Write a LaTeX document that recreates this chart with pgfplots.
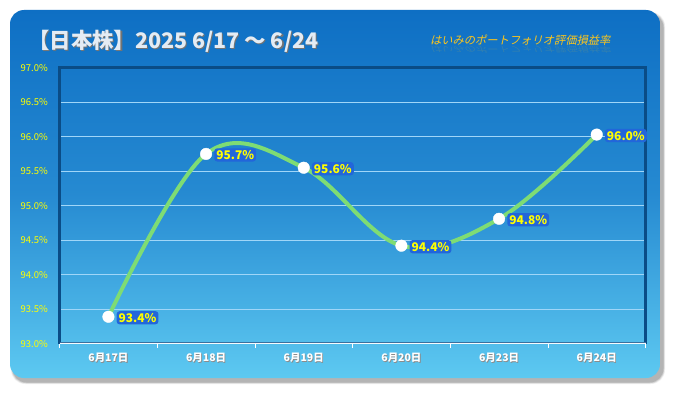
\documentclass[border=0pt]{standalone}
\usepackage{pgfplots}
\pgfplotsset{compat=1.18}
\usepackage{fontspec}
\setmainfont{Noto Sans CJK JP}
\newfontfamily\subfont[FakeSlant=0.22]{Noto Sans CJK JP}
\definecolor{bgtop}{HTML}{0E6FC4}
\definecolor{bgbot}{HTML}{5DC9F1}
\definecolor{framec}{HTML}{0A4C86}
\definecolor{gridc}{HTML}{A0D6F8}
\definecolor{linec}{HTML}{7EDC74}
\definecolor{lblbg}{HTML}{2266DA}
\definecolor{ylw}{HTML}{FFFF00}
\definecolor{titlec}{HTML}{E4ECF4}
\definecolor{subc}{HTML}{FFC61A}
\newcommand\sh[1]{\makebox[0pt][l]{\kern0.8pt\raisebox{-0.8pt}{\textcolor{black!45}{#1}}}#1}
\begin{document}
\begin{tikzpicture}[x=1bp,y=1bp]
\fill[white] (0,0) rectangle (675,393);
% shadow
\foreach \d/\o in {4/0.05,3/0.07,2/0.09,1/0.11}{
  \fill[black,opacity=\o,rounded corners=14bp] (10+3-\d*0.5,15-4-\d*0.5) rectangle (660+3+\d*0.5,383-4+\d*0.5);
}
\shade[rounded corners=14bp, top color=bgtop, bottom color=bgbot, middle color=bgtop!70!bgbot, shading angle=0] (10,15) rectangle (660,383);
% title
\node[anchor=west, font=\bfseries\fontsize{21.5}{21.5}\selectfont, text=black!55, inner sep=0] at (29.2,350.8) {【日本株】2025 6/17 〜 6/24};
\node[anchor=west, font=\bfseries\fontsize{21.5}{21.5}\selectfont, text=titlec, inner sep=0] at (28,352) {【日本株】2025 6/17 〜 6/24};
% subtitle with reflection
\node[anchor=west, font=\subfont\fontsize{11.3}{11.3}\selectfont, text=subc, inner sep=0] at (430,353) {はいみのポートフォリオ評価損益率};
\node[anchor=west, font=\subfont\fontsize{11.3}{11.3}\selectfont, text=subc, inner sep=0, yscale=-0.7, opacity=0.14] at (430,343) {はいみのポートフォリオ評価損益率};
\begin{axis}[
  at={(61,71.5)}, anchor=south west, scale only axis,
  width=586bp, height=276bp,
  xmin=-0.5, xmax=5.5, ymin=93, ymax=97,
  axis line style={draw=none},
  xtick={0,1,2,3,4,5},
  xticklabels={\sh{6月17日},\sh{6月18日},\sh{6月19日},\sh{6月20日},\sh{6月23日},\sh{6月24日}},
  major x tick style={draw=none},
  minor xtick={-0.5,0.5,1.5,2.5,3.5,4.5,5.5},
  minor x tick style={white, line width=0.8bp},
  minor tick length=4bp,
  tick align=outside, xtick pos=bottom,
  xticklabel style={font=\bfseries\fontsize{10.5}{10.5}\selectfont, text=white, yshift=-2bp},
  ytick={93,93.5,94,94.5,95,95.5,96,96.5,97},
  ytick style={draw=none},
  /pgf/number format/assume math mode=true,
  yticklabel={\pgfmathprintnumber[fixed,precision=1,zerofill]{\tick}\%},
  yticklabel style={font=\fontsize{9.5}{9.5}\selectfont, text=ylw, xshift=-4bp},
  ymajorgrids, major grid style={gridc, line width=0.8bp},
  clip=false,
]
\draw[framec, line width=2.5bp] (rel axis cs:0,0) -- (rel axis cs:0,1) -- (rel axis cs:1,1) -- (rel axis cs:1,0);
\draw[framec!80, line width=1.5bp] ([yshift=1.2bp]rel axis cs:0,0) -- ([yshift=1.2bp]rel axis cs:1,0);
\draw[white!90!gridc, line width=1bp] (rel axis cs:0,0) -- (rel axis cs:1,0);
\addplot[linec, line width=4bp, smooth, tension=0.6] coordinates {
 (0,93.39) (1,95.75) (2,95.55) (3,94.42) (4,94.81) (5,96.03)
};
\addplot[only marks, mark=*, mark size=5.8bp, mark options={fill=white, draw=white},
  nodes near coords, point meta=explicit symbolic,
  every node near coord/.style={anchor=west, xshift=8bp, yshift=-1bp, font=\bfseries\fontsize{12}{12}\selectfont, text=ylw, fill=lblbg, inner sep=2bp, rounded corners=3bp}]
coordinates {
 (0,93.39) [93.4\%]
 (1,95.75) [95.7\%]
 (2,95.55) [95.6\%]
 (3,94.42) [94.4\%]
 (4,94.81) [94.8\%]
 (5,96.03) [96.0\%]
};
\end{axis}
\end{tikzpicture}
\end{document}
